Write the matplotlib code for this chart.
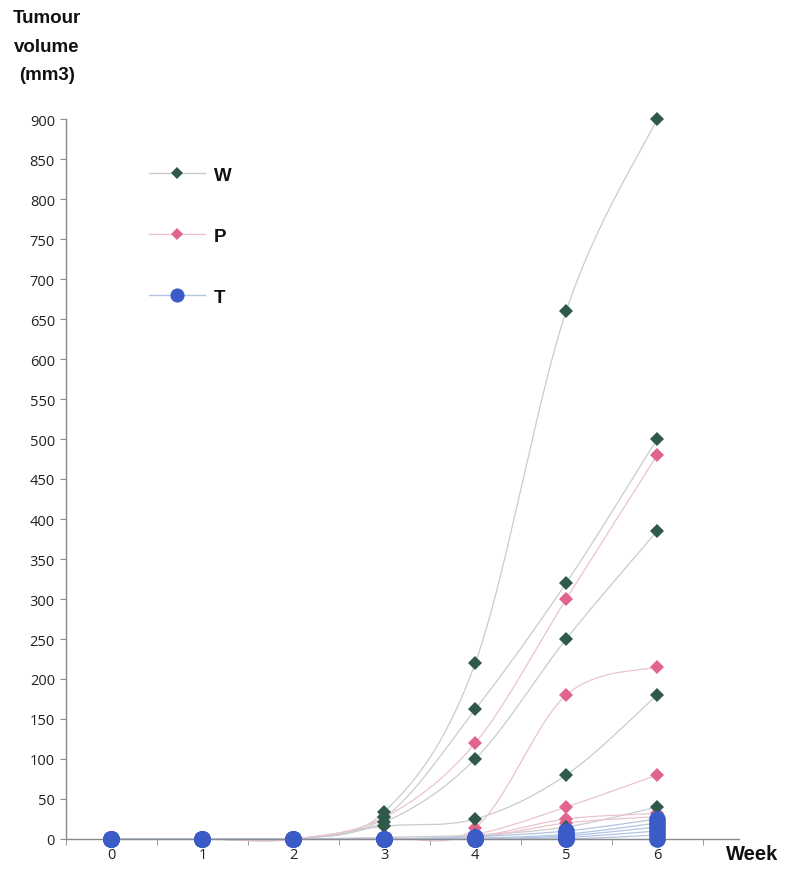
import numpy as np
import matplotlib
matplotlib.use("Agg")
import matplotlib.pyplot as plt
from matplotlib.ticker import FixedLocator

plt.rcParams['font.family'] = ['Liberation Sans', 'DejaVu Sans']

weeks = [0, 1, 2, 3, 4, 5, 6]

# Tumour volume (mm3) per animal, weeks 0-6
w_series = [
    [0, 0, 0, 34, 220, 660, 900],
    [0, 0, 0, 27, 162, 320, 500],
    [0, 0, 0, 21, 100, 250, 385],
    [0, 0, 0, 16, 25, 80, 180],
    [0, 0, 0, 2, 5, 15, 40],
]
p_series = [
    [0, 0, 0, 27, 120, 300, 480],
    [0, 0, 0, 2, 14, 180, 215],
    [0, 0, 0, 0, 6, 40, 80],
    [0, 0, 0, 0, 3, 25, 32],
    [0, 0, 0, 0, 2, 20, 28],
]
t_series = [
    [0, 0, 0, 0, 3, 10, 25],
    [0, 0, 0, 0, 1, 6, 20],
    [0, 0, 0, 0, 0, 4, 15],
    [0, 0, 0, 0, 0, 2, 10],
    [0, 0, 0, 0, 0, 0, 5],
    [0, 0, 0, 0, 0, 0, 0],
]
group_labels = ["W", "P", "T"]
y_ticks = list(range(0, 901, 50))


def smooth(x, y, n=40):
    """Smoothed curve through the points using cubic Bezier segments
    with Catmull-Rom control points."""
    x = np.asarray(x, float)
    y = np.asarray(y, float)
    pts = np.column_stack([x, y])
    out = [pts[0]]
    m = len(pts)
    t = np.linspace(0, 1, n)[1:, None]
    for i in range(m - 1):
        p0 = pts[max(i - 1, 0)]
        p1 = pts[i]
        p2 = pts[i + 1]
        p3 = pts[min(i + 2, m - 1)]
        c1 = p1 + (p2 - p0) / 6.0
        c2 = p2 - (p3 - p1) / 6.0
        seg = ((1 - t) ** 3) * p1 + 3 * ((1 - t) ** 2) * t * c1 \
            + 3 * (1 - t) * t ** 2 * c2 + t ** 3 * p2
        out.extend(seg)
    out = np.array(out)
    return out[:, 0], out[:, 1]


fig = plt.figure(figsize=(7.86, 8.70), dpi=100)
ax = fig.add_axes([66 / 786, 30 / 870, 673 / 786, 720 / 870])

# (values, marker colour, line colour, marker, size, marker layer)
styles = [
    (w_series, "#2f5a4a", "#c9cccb", "D", 7.5, 4),
    (p_series, "#e0648c", "#ebc3cf", "D", 7.5, 3),
    (t_series, "#3b5cc6", "#b3c4e2", "o", 12, 5),
]

handles = []
for (series, mcol, lcol, marker, ms, z), lab in zip(styles, group_labels):
    for vals in series:
        sx, sy = smooth(weeks, vals)
        ax.plot(sx, sy, color=lcol, lw=0.9, zorder=2, clip_on=False)
    for vals in series:
        ax.plot(weeks, vals, linestyle="none", marker=marker, ms=ms,
                color=mcol, markeredgewidth=0, zorder=z, clip_on=False)
    h, = ax.plot([], [], color=lcol, lw=1.0, marker=marker, ms=ms * 0.85,
                 markerfacecolor=mcol, markeredgewidth=0, label=lab)
    handles.append(h)

leg = ax.legend(handles=handles, loc="upper left",
                bbox_to_anchor=(0.098, 0.957), frameon=False,
                handlelength=3.0, handletextpad=0.45, labelspacing=2.33,
                prop={"weight": "bold", "size": 13.5})
for txt in leg.get_texts():
    txt.set_color("#111111")

ax.set_xlim(-0.5, 6.9)
ax.set_ylim(0, 900)
ax.yaxis.set_major_locator(FixedLocator(y_ticks))
ax.xaxis.set_major_locator(FixedLocator(weeks))
ax.xaxis.set_minor_locator(FixedLocator([w + 0.5 for w in [-1] + weeks]))
ax.set_xticklabels([str(w) for w in weeks])

for side in ("top", "right"):
    ax.spines[side].set_visible(False)
for side in ("left", "bottom"):
    ax.spines[side].set_color("#8a8a8a")
    ax.spines[side].set_linewidth(1.0)

ax.tick_params(axis="y", which="major", direction="out", length=4,
               color="#8a8a8a", labelsize=10.5, labelcolor="#222222", pad=4)
ax.tick_params(axis="x", which="major", length=0, labelsize=10.5,
               labelcolor="#222222", pad=6)
ax.tick_params(axis="x", which="minor", direction="out", length=4,
               color="#8a8a8a")
for lbl in ax.get_xticklabels() + ax.get_yticklabels():
    lbl.set_family(["Open Sans", "DejaVu Sans"])

fig.text(47 / 786, 1 - 47 / 870, "Tumour\nvolume\n(mm3)", ha="center",
         va="center", fontsize=13.5, fontweight="bold", linespacing=1.85,
         color="#111111")
fig.text(752 / 786, 1 - 855 / 870, "Week", ha="center", va="center",
         fontsize=14.5, fontweight="bold", color="#111111")

fig.savefig("out.png", dpi=100, facecolor="white")
